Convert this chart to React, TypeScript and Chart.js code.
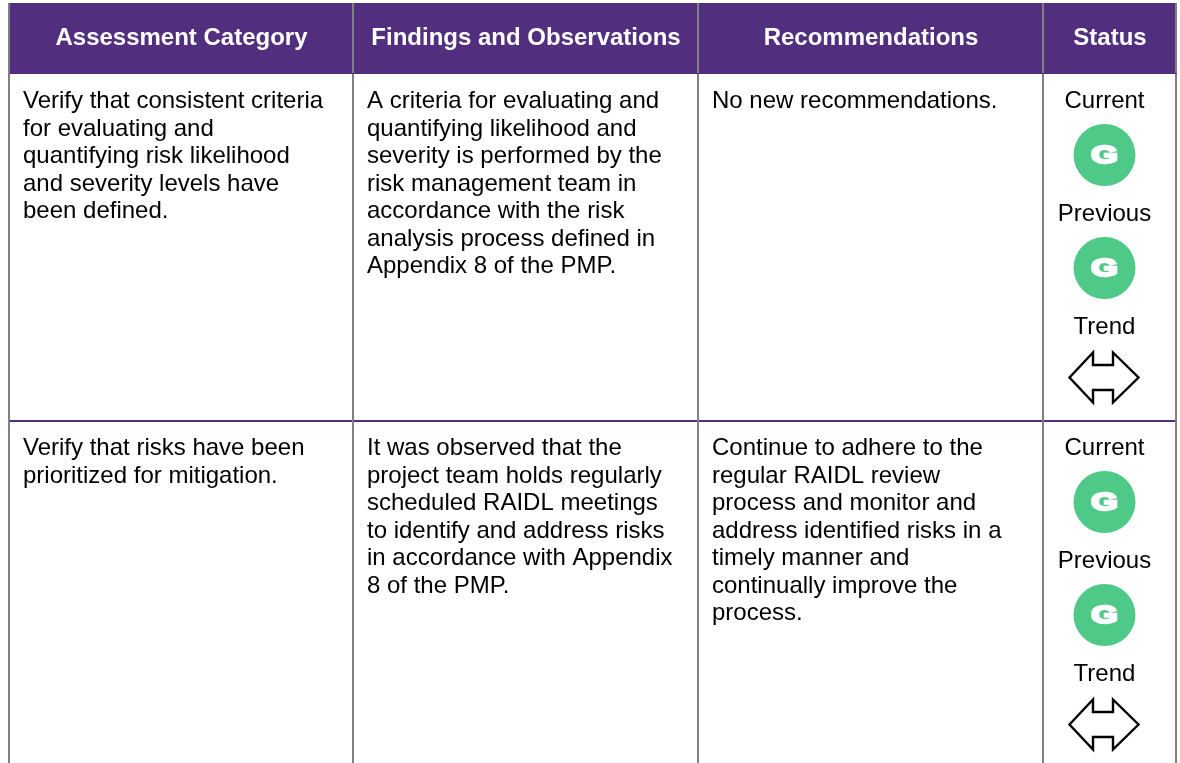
import React, { useEffect, useRef } from "react";
import { Chart, registerables } from "chart.js";

Chart.register(...registerables);

const headers = ["Assessment Category", "Findings and Observations", "Recommendations", "Status"];
const categories = [
  ["Verify that consistent criteria", "for evaluating and", "quantifying risk likelihood", "and severity levels have", "been defined."],
  ["Verify that risks have been", "prioritized for mitigation."],
];
const findings = [
  ["A criteria for evaluating and", "quantifying likelihood and", "severity is performed by the", "risk management team in", "accordance with the risk", "analysis process defined in", "Appendix 8 of the PMP."],
  ["It was observed that the", "project team holds regularly", "scheduled RAIDL meetings", "to identify and address risks", "in accordance with Appendix", "8 of the PMP."],
];
const recommendations = [
  ["No new recommendations."],
  ["Continue to adhere to the", "regular RAIDL review", "process and monitor and", "address identified risks in a", "timely manner and", "continually improve the", "process."],
];
const currentStatus = ["G", "G"];
const previousStatus = ["G", "G"];
const statusLabels = ["Current", "Previous", "Trend"];

const columnEdges = [9, 353, 698, 1043, 1176];
const rowTops = [74, 421];
const PURPLE = "#522E7E";
const GREEN = "#4FC987";
const GREY = "#808080";
const FONT = "'Liberation Sans', Arial, sans-serif";
const BODY = `24px ${FONT}`;
const HEAD = `bold 24px ${FONT}`;
const LINE = 27.55;
const statusX = 1104.5;

const tablePlugin = {
  id: "table",
  beforeDatasetsDraw(chart: any) {
    const { ctx, scales } = chart;
    const X = (v: number) => scales.x.getPixelForValue(v);
    const Y = (v: number) => scales.y.getPixelForValue(v);
    ctx.save();
    ctx.fillStyle = "#fff";
    ctx.fillRect(0, 0, chart.width, chart.height);
    ctx.fillStyle = PURPLE;
    ctx.fillRect(X(8), Y(3), X(1177) - X(8), Y(74) - Y(3));
    ctx.fillRect(X(8), Y(rowTops[1] - 1), X(1177) - X(8), 2);
    ctx.fillStyle = GREY;
    columnEdges.forEach((e) => {
      ctx.fillRect(X(e - 1), Y(3), 2, Y(763) - Y(3));
    });
    ctx.fillStyle = PURPLE;
    ctx.fillRect(X(10), Y(73), X(1177) - X(10), 1);
    ctx.textBaseline = "alphabetic";
    ctx.font = HEAD;
    ctx.fillStyle = "#fff";
    ctx.textAlign = "center";
    headers.forEach((h, i) => {
      ctx.fillText(h, X((columnEdges[i] + columnEdges[i + 1]) / 2 + 0.5), Y(45));
    });
    ctx.font = BODY;
    ctx.fillStyle = "#000";
    ctx.textAlign = "left";
    [categories, findings, recommendations].forEach((col, c) => {
      col.forEach((lines, r) => {
        lines.forEach((t, l) => {
          ctx.fillText(t, X(columnEdges[c] + 14), Y(rowTops[r] + 34 + l * LINE));
        });
      });
    });
    ctx.textAlign = "center";
    rowTops.forEach((top) => {
      statusLabels.forEach((s, i) => {
        ctx.fillText(s, X(statusX), Y(top + 34 + i * 113));
      });
    });
    ctx.restore();
  },
  afterDatasetsDraw(chart: any) {
    const { ctx } = chart;
    ctx.save();
    [0, 1].forEach((d) => {
      const src = d === 0 ? currentStatus : previousStatus;
      chart.getDatasetMeta(d).data.forEach((p: any, i: number) => {
        ctx.save();
        ctx.translate(p.x, p.y);
        ctx.scale(1.42, 1);
        ctx.fillStyle = "#fff";
        ctx.strokeStyle = "#fff";
        ctx.lineWidth = 2.3;
        ctx.lineJoin = "miter";
        ctx.font = `bold 24px ${FONT}`;
        ctx.textAlign = "center";
        ctx.textBaseline = "alphabetic";
        ctx.strokeText(src[i], 0, 8.2);
        ctx.fillText(src[i], 0, 8.2);
        ctx.restore();
      });
    });
    chart.getDatasetMeta(2).data.forEach((p: any) => {
      const poly = [[-35, 0], [-11.5, -25], [-11.5, -12.5], [8.5, -12.5], [8.5, -25], [34, 0], [8.5, 25], [8.5, 12.5], [-11.5, 12.5], [-11.5, 25]];
      ctx.beginPath();
      poly.forEach(([a, b], i) => (i ? ctx.lineTo(p.x + a, p.y + b) : ctx.moveTo(p.x + a, p.y + b)));
      ctx.closePath();
      ctx.strokeStyle = "#000";
      ctx.lineWidth = 2.4;
      ctx.lineJoin = "miter";
      ctx.stroke();
    });
    ctx.restore();
  },
};

export default function App() {
  const ref = useRef<HTMLCanvasElement>(null);
  useEffect(() => {
    const pts = (offset: number, len: number) =>
      Array.from({ length: len }, (_, r) => ({ x: statusX, y: rowTops[r] + offset }));
    const chart = new Chart(ref.current!, {
      type: "scatter",
      data: {
        datasets: [
          { label: "Current", data: pts(81, currentStatus.length), backgroundColor: GREEN, borderWidth: 0, pointRadius: 31, pointHoverRadius: 31 },
          { label: "Previous", data: pts(194, previousStatus.length), backgroundColor: GREEN, borderWidth: 0, pointRadius: 31, pointHoverRadius: 31 },
          { label: "Trend", data: pts(303.5, 2), pointRadius: 0, pointHoverRadius: 0 },
        ],
      },
      options: {
        animation: false,
        responsive: false,
        layout: { padding: 0, autoPadding: false },
        events: [],
        plugins: { legend: { display: false }, tooltip: { enabled: false }, title: { display: false } },
        scales: {
          x: { type: "linear", display: false, min: 0, max: 1180 },
          y: { type: "linear", display: false, min: 0, max: 763, reverse: true },
        },
      },
      plugins: [tablePlugin],
    } as any);
    return () => chart.destroy();
  }, []);
  return (
    <canvas
      ref={ref}
      width={1180}
      height={763}
      style={{ position: "fixed", left: 0, top: 0, width: 1180, height: 763, display: "block" }}
    />
  );
}
